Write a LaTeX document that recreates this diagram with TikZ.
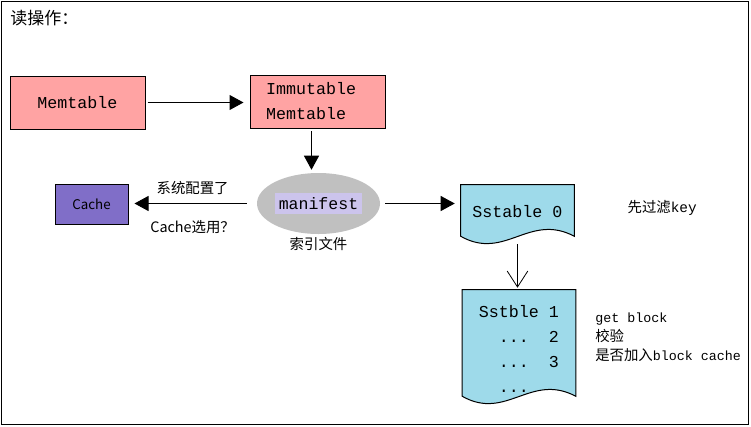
\documentclass[tikz,border=0pt]{standalone}
\usepackage{fontspec}
\setmonofont{Liberation Mono}
\newfontfamily\cjk{Noto Sans CJK SC}
\usetikzlibrary{arrows.meta, positioning, shapes.geometric, calc, backgrounds}
\definecolor{memRed}{RGB}{255,163,163}
\definecolor{cachePurple}{RGB}{128,110,200}
\definecolor{sstBlue}{RGB}{158,218,234}
\definecolor{mfGray}{RGB}{192,192,192}
\definecolor{mfLilac}{RGB}{204,196,236}

% wavy-bottom document outline round a node, #2 = lift of the side ends
\newcommand{\docshape}[2]{%
  \coordinate (#1-r) at ($(#1.south east)+(0,-#2)$);
  \coordinate (#1-l) at ($(#1.south west)+(0,-#2)$);
  \draw[docline] (#1.north west) -- (#1.north east) -- (#1-r)
    .. controls ($(#1-r)+(-45,-24)$) and ($(#1-l)+(44,25)$) .. (#1-l) -- cycle;}

\begin{document}
\begin{tikzpicture}[x=0.75pt, y=-0.75pt,
  membox/.style={draw, line width=0.75pt, fill=memRed, minimum width=101.25pt,
    minimum height=39.75pt, align=left, font=\ttfamily\fontsize{12.5}{18.75}\selectfont},
  docbox/.style={minimum width=84.75pt, inner sep=0pt, align=left,
    font=\ttfamily\fontsize{12.5}{18.75}\selectfont},
  docline/.style={draw, line width=0.75pt, fill=sstBlue},
  cjktext/.style={inner sep=1pt, font=\cjk\fontsize{10.8}{13}\selectfont},
  arr/.style={-{Triangle[length=10.5pt,width=11.25pt]}, line width=0.75pt},
  barb/.style={-{Straight Barb[length=12pt,width=15.5pt]}, line width=0.6pt}]
  \useasboundingbox (0,0) rectangle (751,426);
  \draw[line width=0.75pt] (1.5,1.5) rectangle (748.5,424.5);

  \node (title) [anchor=west, inner sep=0pt, font=\cjk\fontsize{12.75}{15}\selectfont]
    at (10,18) {读操作：};

  \node (mem) [membox] at (77.5,102.5) {Memtable};
  \node (imm) [membox, text width=77.25pt, inner xsep=12pt] at (317.5,101.5) {Immutable\\Memtable};

  \node (mf) [ellipse, fill=mfGray, minimum width=92.25pt, minimum height=45.75pt]
    at (318.5,203.5) {};
  \node (mftxt) [fill=mfLilac, minimum width=65.25pt, minimum height=15.75pt, inner sep=0pt,
    font=\ttfamily\fontsize{12.4}{15}\selectfont] at (mf.center) {manifest};
  \node (idx) [cjktext, below=1pt of mf] {索引文件};

  \node (cache) [draw, line width=0.75pt, fill=cachePurple, minimum width=54.75pt,
    minimum height=30pt, font=\cjk\fontsize{10}{12}\selectfont] at (91.5,204) {Cache};

  \node (s0) [docbox, minimum height=40.5pt] at (517.5,212) {Sstable 0};
  \node (s1) [docbox, minimum height=88.5pt] at (519,349)
    {Sstble 1\\\phantom{Ss}...\phantom{bl}2\\\phantom{Ss}...\phantom{bl}3\\\phantom{Ss}...};
  \begin{scope}[on background layer]
    \docshape{s0}{3}
    \docshape{s1}{12}
  \end{scope}

  \node (filter) [cjktext, anchor=west] at (626,208) {先过滤{\ttfamily key}};
  \node (steps) [anchor=north west, inner sep=0pt, align=left,
    font=\cjk\fontsize{10.8}{14.25}\selectfont] at (595,313)
    {{\ttfamily\fontsize{10}{14.25}\selectfont get block}\\校验\\是否加入{\ttfamily\fontsize{10}{14.25}\selectfont block cache}};

  \draw[arr, shorten <=1.5pt, shorten >=4.5pt] (mem.east) -- (mem.east -| imm.west);
  \draw[arr, shorten <=2pt, shorten >=2.25pt]
    ([xshift=-4.5pt]imm.south) -- ([xshift=-4.5pt]imm.south |- mf.north);
  \draw[arr, shorten <=7.5pt, shorten >=4.5pt] (mf.west) -- (mf.west -| cache.east)
    node[cjktext, midway, above=5pt] {系统配置了}
    node[cjktext, midway, below=11pt] {Cache选用？};
  \draw[arr, shorten <=3.75pt, shorten >=4.5pt] (mf.east) -- (mf.east -| s0.west);
  \draw[barb, shorten <=3.75pt, shorten >=1.5pt] (s0.south) -- (s0.south |- s1.north);
\end{tikzpicture}
\end{document}
